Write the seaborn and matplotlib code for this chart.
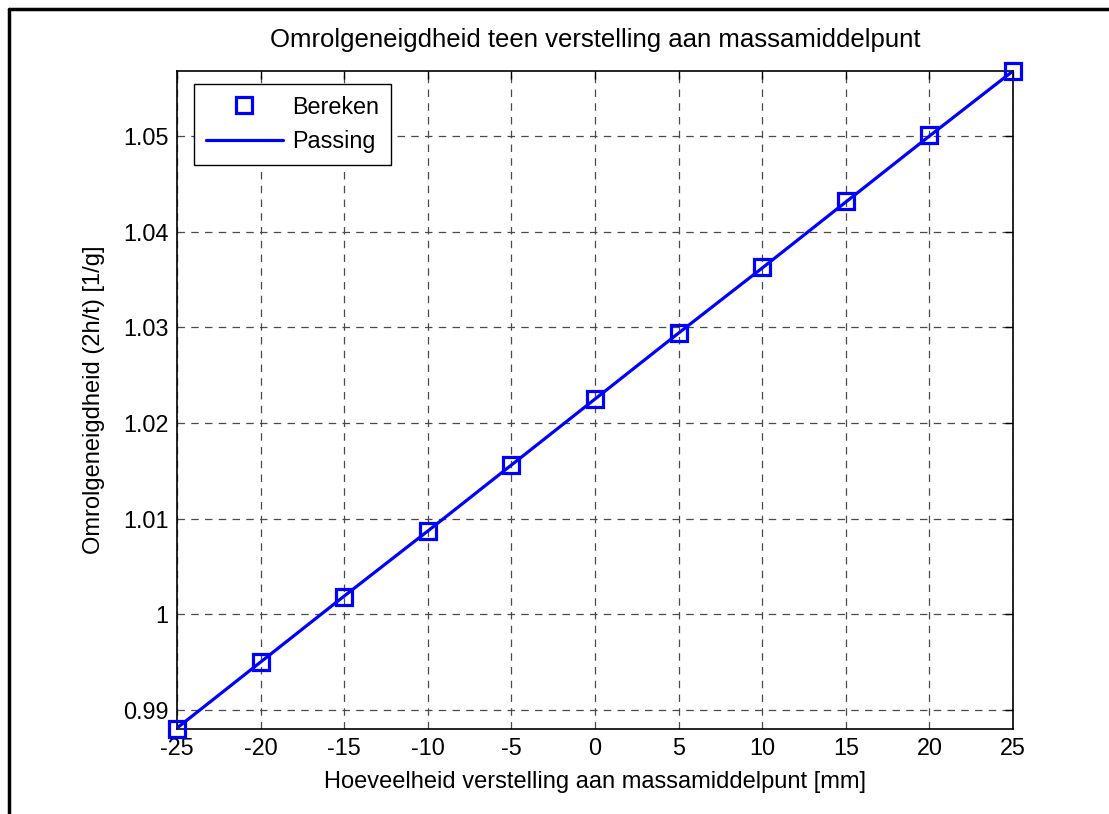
import matplotlib
matplotlib.use("Agg")
import matplotlib.pyplot as plt
import seaborn as sns
import pandas as pd
from matplotlib.lines import Line2D

# Data
verstelling_mm = [-25, -20, -15, -10, -5, 0, 5, 10, 15, 20, 25]
bereken = [0.9880, 0.9950, 1.0018, 1.0087, 1.0156, 1.0225, 1.0294, 1.0363, 1.0432, 1.0501, 1.0568]
passing_x = [-25, -20, -15, -10, -5, 0, 5, 10, 15, 20, 25]
passing_y = [0.9881, 0.9950, 1.0019, 1.0087, 1.0156, 1.0225, 1.0294, 1.0362, 1.0431, 1.0500, 1.0568]
x_ticks = [-25, -20, -15, -10, -5, 0, 5, 10, 15, 20, 25]
y_ticks = [0.99, 1.00, 1.01, 1.02, 1.03, 1.04, 1.05]
y_ticklabels = ["0.99", "1", "1.01", "1.02", "1.03", "1.04", "1.05"]

title = "Omrolgeneigdheid teen verstelling aan massamiddelpunt"
xlabel = "Hoeveelheid verstelling aan massamiddelpunt [mm]"
ylabel = "Omrolgeneigdheid (2h/t) [1/g]"

df_b = pd.DataFrame({"x": verstelling_mm, "y": bereken})
df_p = pd.DataFrame({"x": passing_x, "y": passing_y})

sns.set_theme(style="white")
plt.rcParams["font.family"] = ["Liberation Sans", "DejaVu Sans"]
plt.rcParams["axes.unicode_minus"] = False
plt.rcParams["text.color"] = "black"
plt.rcParams["axes.labelcolor"] = "black"
plt.rcParams["axes.titlecolor"] = "black"

fig = plt.figure(figsize=(11.09, 8.14), dpi=100)
ax = fig.add_axes([177 / 1109, 1 - 729 / 814, (1013 - 177) / 1109, (729 - 71) / 814])

blue = "#0000ff"
sns.lineplot(data=df_p, x="x", y="y", ax=ax, color=blue, linewidth=2.3,
             label="Passing", zorder=3)
ax.plot(df_b["x"], df_b["y"], linestyle="none", marker="s", markersize=11.5,
        markerfacecolor="none", markeredgecolor=blue, markeredgewidth=2.3,
        label="Bereken", zorder=4, clip_on=False)

ax.set_xlim(-25, 25)
ax.set_ylim(0.988, 1.0568)
ax.set_xticks(x_ticks)
ax.set_xticklabels([str(v) for v in x_ticks])
ax.set_yticks(y_ticks)
ax.set_yticklabels(y_ticklabels)

ax.grid(True, color="#4a4a4a", linestyle=(0, (6, 5)), linewidth=0.9)
ax.set_axisbelow(True)
for s in ax.spines.values():
    s.set_color("black")
    s.set_linewidth(1.2)
ax.tick_params(direction="in", length=6, width=1, top=True, right=True,
               labelsize=16.8, colors="black", pad=6)
ax.tick_params(axis="x", pad=6)

ax.set_title(title, fontsize=18.5, pad=17, color="black")
ax.set_xlabel(xlabel, fontsize=17, labelpad=8, color="black")
ax.set_ylabel(ylabel, fontsize=17, labelpad=13, color="black")

handles, labels = ax.get_legend_handles_labels()
order = [labels.index("Bereken"), labels.index("Passing")]
leg = ax.legend([handles[i] for i in order], [labels[i] for i in order],
                loc="upper left", bbox_to_anchor=(194 / 1109, 1 - 84 / 814),
                bbox_transform=fig.transFigure, fontsize=16.8, frameon=True,
                fancybox=False, edgecolor="black", framealpha=1,
                handlelength=3.3, borderpad=0.5, labelspacing=0.5,
                handletextpad=0.4, borderaxespad=0)
leg.get_frame().set_linewidth(1.0)
for t in leg.get_texts():
    t.set_color("black")

# figure border (only left/top visible in crop)
fig.add_artist(Line2D([9 / 1109, 9 / 1109], [0, 1 - 9 / 814], transform=fig.transFigure,
                      color="black", linewidth=2.5))
fig.add_artist(Line2D([9 / 1109, 1], [1 - 9 / 814, 1 - 9 / 814], transform=fig.transFigure,
                      color="black", linewidth=2.5))

fig.savefig("out.png", dpi=100)
